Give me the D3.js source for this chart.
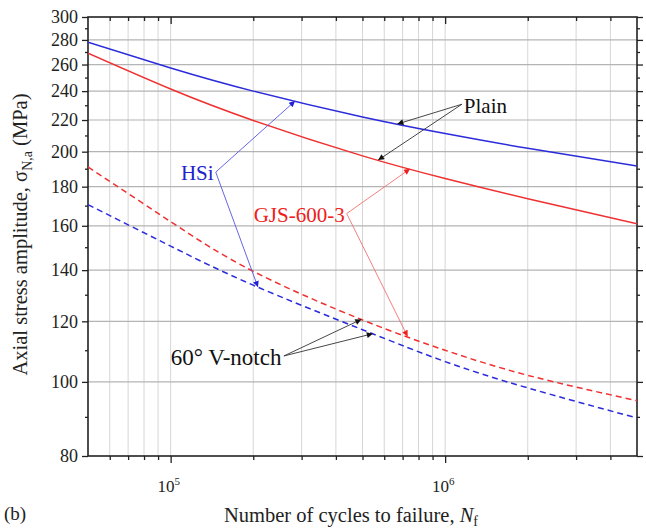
<!DOCTYPE html>
<html>
<head>
<meta charset="utf-8">
<script src="https://cdn.jsdelivr.net/npm/d3@7"></script>
<style>
  html, body { margin: 0; padding: 0; background: #fff; }
  svg { display: block; }
  svg text { font-family: "Liberation Serif", "Times New Roman", serif; }
</style>
</head>
<body>
<svg id="chart" width="646" height="530"></svg>
<script>
// Number of cycles to failure (shared abscissa of all S-N curves)
const cycles = [5e4, 1e5, 2e5, 5e5, 1e6, 2e6, 5e6];

// Stress amplitude (MPa) for each material / specimen geometry
const hsiPlain   = [278, 257.3, 240, 222, 211.2, 202, 191.5];
const gjsPlain   = [269, 241.5, 219.7, 197.5, 184.5, 173.6, 161];
const gjsNotched = [191, 162, 139.5, 120.5, 110, 102, 94.5];
const hsiNotched = [170.5, 150.5, 133.8, 117, 106.3, 98.2, 89.7];

// Axis ticks
const yTicks = [80, 100, 120, 140, 160, 180, 200, 220, 240, 260, 280, 300];
const yMinorTicks = [90, 110, 130, 150, 170, 190, 210, 230, 250, 270, 290];
const xMajorTicks = [1e5, 1e6];
const xMinorTicks = [6e4, 7e4, 8e4, 9e4, 2e5, 3e5, 4e5, 5e5, 6e5, 7e5, 8e5, 9e5, 2e6, 3e6, 4e6];

const SERIF = "Liberation Serif, Times New Roman, serif";
const BLUE = "#2b2bdc";
const RED = "#f03030";

const series = [
  { key: "hsiPlain",   values: hsiPlain,   color: BLUE, dash: null },
  { key: "gjsPlain",   values: gjsPlain,   color: RED,  dash: null },
  { key: "gjsNotched", values: gjsNotched, color: RED,  dash: "6,4" },
  { key: "hsiNotched", values: hsiNotched, color: BLUE, dash: "6,4" }
];

const svg = d3.select("#chart");
const L = 88, R = 637, T = 17, B = 456;

const x = d3.scaleLog().domain([5e4, 5e6]).range([L, R]);
const y = d3.scaleLog().domain([80, 300]).range([B, T]);

// Gridlines
const grid = svg.append("g");
grid.selectAll(".vg").data(xMinorTicks.concat(xMajorTicks)).join("line")
  .attr("x1", d => x(d)).attr("x2", d => x(d))
  .attr("y1", T).attr("y2", B)
  .attr("stroke", "#d6d6d6").attr("stroke-width", 1);
grid.selectAll(".hg").data(yTicks.filter(v => v > 80 && v < 300)).join("line")
  .attr("x1", L).attr("x2", R)
  .attr("y1", d => y(d)).attr("y2", d => y(d))
  .attr("stroke", "#b4b4b4").attr("stroke-width", 1.2);

// Axes: left/bottom ticks outward, top/right ticks inward
const fmtNone = () => "";
const gLeft = svg.append("g").attr("transform", `translate(${L},0)`)
  .call(d3.axisLeft(y).tickValues(yTicks).tickFormat(d3.format("d")).tickSize(6).tickPadding(4));
const gLeftMinor = svg.append("g").attr("transform", `translate(${L},0)`)
  .call(d3.axisLeft(y).tickValues(yMinorTicks).tickFormat(fmtNone).tickSize(3));
const gRight = svg.append("g").attr("transform", `translate(${R},0)`)
  .call(d3.axisLeft(y).tickValues(yTicks).tickFormat(fmtNone).tickSize(-6));
const gRightMinor = svg.append("g").attr("transform", `translate(${R},0)`)
  .call(d3.axisLeft(y).tickValues(yMinorTicks).tickFormat(fmtNone).tickSize(-3));

const gBottom = svg.append("g").attr("transform", `translate(0,${B})`)
  .call(d3.axisBottom(x).tickValues(xMajorTicks).tickFormat(fmtNone).tickSize(7));
const gBottomMinor = svg.append("g").attr("transform", `translate(0,${B})`)
  .call(d3.axisBottom(x).tickValues(xMinorTicks).tickFormat(fmtNone).tickSize(4));
const gTop = svg.append("g").attr("transform", `translate(0,${T})`)
  .call(d3.axisBottom(x).tickValues(xMajorTicks).tickFormat(fmtNone).tickSize(7));
const gTopMinor = svg.append("g").attr("transform", `translate(0,${T})`)
  .call(d3.axisBottom(x).tickValues(xMinorTicks).tickFormat(fmtNone).tickSize(4));

[gLeft, gLeftMinor, gRight, gRightMinor, gBottom, gBottomMinor, gTop, gTopMinor].forEach(g => {
  g.attr("font-family", SERIF);
  g.select(".domain").remove();
  g.selectAll(".tick line").attr("stroke", "#222").attr("stroke-width", 1.3);
});
gLeft.selectAll(".tick text")
  .attr("font-family", SERIF).attr("font-size", 18).attr("fill", "#222");

// Decade labels 10^n on the x axis
const xl = svg.append("g").selectAll("text").data(xMajorTicks).join("text")
  .attr("x", d => x(d) - 2).attr("y", B + 36)
  .attr("text-anchor", "middle")
  .attr("font-family", SERIF).attr("font-size", 17).attr("fill", "#222");
xl.append("tspan").text("10");
xl.append("tspan").attr("dy", -7).attr("font-size", 11).text(d => Math.round(Math.log10(d)));

// Frame
svg.append("rect").attr("x", L).attr("y", T).attr("width", R - L).attr("height", B - T)
  .attr("fill", "none").attr("stroke", "#222").attr("stroke-width", 1.6);

// Curves
svg.append("clipPath").attr("id", "plotclip")
  .append("rect").attr("x", L).attr("y", T).attr("width", R - L).attr("height", B - T);
const line = d3.line()
  .x((d, i) => x(cycles[i]))
  .y(d => y(d))
  .curve(d3.curveNatural);
svg.append("g").attr("clip-path", "url(#plotclip)")
  .selectAll("path").data(series).join("path")
  .attr("d", s => line(s.values))
  .attr("fill", "none")
  .attr("stroke", s => s.color)
  .attr("stroke-width", 1.5)
  .attr("stroke-dasharray", s => s.dash);

// Stress on a curve at a given life (log-log interpolation)
function stressAt(values, n) {
  const ln = Math.log10(n);
  for (let i = 0; i < cycles.length - 1; i++) {
    const a = Math.log10(cycles[i]), b = Math.log10(cycles[i + 1]);
    if (ln >= a && ln <= b) {
      const t = (ln - a) / (b - a);
      return Math.pow(10, Math.log10(values[i]) + t * (Math.log10(values[i + 1]) - Math.log10(values[i])));
    }
  }
  return values[values.length - 1];
}

// Arrow heads
const defs = svg.append("defs");
[["arrBlack", "#111"], ["arrBlue", "#1f1fd8"], ["arrRed", "#f02020"]].forEach(([id, c]) => {
  defs.append("marker").attr("id", id)
    .attr("viewBox", "0 0 10 10").attr("refX", 10).attr("refY", 5)
    .attr("markerWidth", 9).attr("markerHeight", 6).attr("markerUnits", "userSpaceOnUse")
    .attr("orient", "auto")
    .append("path").attr("d", "M0,0 L10,5 L0,10 Z").attr("fill", c);
});

const byKey = Object.fromEntries(series.map(s => [s.key, s.values]));

// Callouts: label anchored in data space, leader arrows end on the curves
const callouts = [
  { text: "Plain", n: 1.17e6, s: 230, anchor: "start", side: "left", size: 21,
    color: "#111", line: "#333", marker: "arrBlack",
    targets: [["hsiPlain", 6.7e5], ["gjsPlain", 5.7e5]] },
  { text: "HSi", n: 1.25e5, s: 187.5, anchor: "middle", side: "right", size: 21,
    color: "#2222cc", line: "#5555dd", marker: "arrBlue",
    targets: [["hsiPlain", 2.84e5], ["hsiNotched", 2.08e5]] },
  { text: "GJS-600-3", n: 2.94e5, s: 165.5, anchor: "middle", side: "right", size: 21,
    color: "#ee2020", line: "#f07070", marker: "arrRed",
    targets: [["gjsPlain", 7.45e5], ["gjsNotched", 7.3e5]] },
  { text: "60\u00b0 V-notch", n: 1.0e5, s: 107.8, anchor: "start", side: "right", size: 23,
    color: "#111", line: "#333", marker: "arrBlack",
    targets: [["gjsNotched", 4.95e5], ["hsiNotched", 5.45e5]] }
];

const ann = svg.append("g");
callouts.forEach(c => {
  const px = x(c.n), py = y(c.s);
  const label = ann.append("text")
    .attr("x", px).attr("y", py).attr("dy", "0.35em")
    .attr("text-anchor", c.anchor)
    .attr("font-family", SERIF)
    .attr("font-size", c.size).attr("fill", c.color)
    .text(c.text);
  const bb = label.node().getBBox();
  const fx = c.side === "left" ? bb.x - 2 : bb.x + bb.width + 2;
  const fy = py - 1;
  c.targets.forEach(([k, n]) => {
    ann.insert("line", "text")
      .attr("x1", fx).attr("y1", fy)
      .attr("x2", x(n)).attr("y2", y(stressAt(byKey[k], n)))
      .attr("stroke", c.line).attr("stroke-width", 0.9)
      .attr("marker-end", `url(#${c.marker})`);
  });
});

// Axis titles
const yt = svg.append("text")
  .attr("transform", `translate(27,${(T + B) / 2 - 2}) rotate(-90)`)
  .attr("text-anchor", "middle").attr("font-family", SERIF)
  .attr("font-size", 20.5).attr("fill", "#222");
yt.append("tspan").text("Axial stress amplitude, \u03c3");
yt.append("tspan").attr("dy", 5).attr("font-size", 14).text("N,a");
yt.append("tspan").attr("dy", -5).text(" (MPa)");

const xt = svg.append("text")
  .attr("x", 351).attr("y", 522)
  .attr("text-anchor", "middle").attr("font-family", SERIF)
  .attr("font-size", 20.5).attr("fill", "#222");
xt.append("tspan").text("Number of cycles to failure, ");
xt.append("tspan").attr("font-style", "italic").text("N");
xt.append("tspan").attr("dy", 4).attr("font-size", 14).text("f");

svg.append("text").attr("x", 4).attr("y", 520)
  .attr("font-family", SERIF)
  .attr("font-size", 19).attr("fill", "#222").text("(b)");
</script>
</body>
</html>
